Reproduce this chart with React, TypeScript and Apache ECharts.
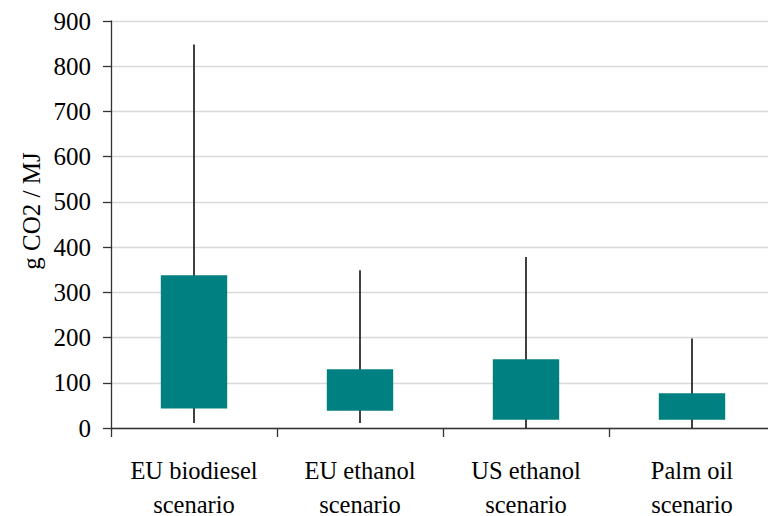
import React, { useEffect, useRef } from "react";
import * as echarts from "echarts";

const categories = ["EU biodiesel\nscenario", "EU ethanol\nscenario", "US ethanol\nscenario", "Palm oil\nscenario"];
const whiskerLow = [11, 11, 0, 0];
const boxLow = [43, 38, 18, 18];
const boxHigh = [338, 130, 152, 77];
const whiskerHigh = [848, 349, 378, 198];
const yTicks = { min: 0, max: 900, interval: 100 };
const yAxisTitle = "g CO2 / MJ";

const SERIF = "'Liberation Serif', 'Times New Roman', serif";

export default function App() {
  const ref = useRef<HTMLDivElement>(null);
  useEffect(() => {
    if (!ref.current) return;
    const chart = echarts.init(ref.current, null, { renderer: "svg" });
    const data = categories.map((_, i) => [i, whiskerLow[i], boxLow[i], boxHigh[i], whiskerHigh[i]]);
    chart.setOption({
      animation: false,
      textStyle: { fontFamily: SERIF },
      grid: { left: 111, top: 21, bottom: 88, right: -7, outerBoundsMode: "none", containLabel: false },
      graphic: [
        {
          type: "text",
          x: 31,
          y: 211,
          rotation: Math.PI / 2,
          style: {
            text: yAxisTitle,
            fontFamily: SERIF,
            fontSize: 25,
            fill: "#000",
            align: "center",
            verticalAlign: "middle",
          },
        },
      ],
      xAxis: {
        type: "category",
        data: categories,
        boundaryGap: true,
        axisLine: { lineStyle: { color: "#333", width: 1.3 } },
        axisTick: { show: true, length: 9, alignWithLabel: false, lineStyle: { color: "#333", width: 1.3 } },
        axisLabel: {
          fontFamily: SERIF,
          fontSize: 24.5,
          color: "#000",
          lineHeight: 34,
          margin: 25,
          interval: 0,
        },
      },
      yAxis: {
        type: "value",
        min: yTicks.min,
        max: yTicks.max,
        interval: yTicks.interval,
        axisLine: { show: true, lineStyle: { color: "#333", width: 1.3 } },
        axisTick: { show: true, length: 8, lineStyle: { color: "#333", width: 1.3 } },
        axisLabel: { fontFamily: SERIF, fontSize: 25, color: "#000", margin: 20 },
        splitLine: { show: true, lineStyle: { color: "#d9d9d9", width: 1.3 } },
      },
      series: [
        {
          type: "custom",
          data,
          encode: { x: 0, y: [1, 2, 3, 4] },
          renderItem: (params: any, api: any) => {
            const idx = api.value(0);
            const lo = api.coord([idx, api.value(1)]);
            const bl = api.coord([idx, api.value(2)]);
            const bh = api.coord([idx, api.value(3)]);
            const hi = api.coord([idx, api.value(4)]);
            const bw = api.size([1, 0])[0] * 0.4;
            return {
              type: "group",
              children: [
                {
                  type: "line",
                  shape: { x1: lo[0], y1: lo[1], x2: hi[0], y2: hi[1] },
                  style: { stroke: "#111", lineWidth: 1.6 },
                },
                {
                  type: "rect",
                  shape: { x: bl[0] - bw / 2, y: bh[1], width: bw, height: bl[1] - bh[1] },
                  style: { fill: "#008080" },
                },
              ],
            };
          },
        },
      ],
    });
    return () => chart.dispose();
  }, []);
  return <div ref={ref} style={{ width: 768, height: 516, position: "absolute", left: 0, top: 0 }} />;
}
